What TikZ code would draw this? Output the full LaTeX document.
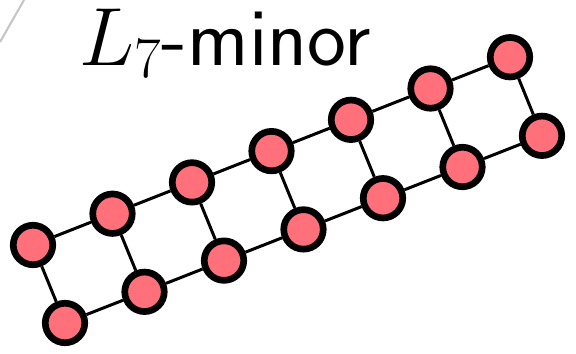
\RequirePackage{fix-cm}
\documentclass[tikz,border=0pt]{standalone}
\usetikzlibrary{positioning}
\definecolor{vertexpink}{RGB}{255,112,122}

\begin{document}
\begin{tikzpicture}[
  x=0.02cm, y=-0.02cm,
  vertex/.style={circle, draw=black, line width=3.8pt, fill=vertexpink,
    minimum size=0.79cm, inner sep=0pt},
  edge/.style={line width=1.7pt}
]%
  \useasboundingbox (0,0) rectangle (576,353);

  % Frame remnant
  \draw[gray!45, line width=1.2pt] (0,42) -- (24,0);

  % Title
  \node[anchor=base west, inner sep=0pt, font=\fontsize{47}{56}\selectfont]
    (title) at (79,65) {$L_7$\textsf{-minor}};

  % Vertices
  \foreach \i in {1,...,7} {
    \node[vertex] (t\i) at ({33+79.5*(\i-1)}, {245-31.3*(\i-1)}) {};
    \node[vertex] (b\i) at ({65+79.5*(\i-1)}, {323-31.2*(\i-1)}) {};
  }

  % Rails and rungs
  \foreach \i [count=\j from 2] in {1,...,6} {
    \draw[edge] (t\i) -- (t\j);
    \draw[edge] (b\i) -- (b\j);
  }
  \foreach \i in {1,...,7}
    \draw[edge] (t\i) -- (b\i);
\end{tikzpicture}
\end{document}
